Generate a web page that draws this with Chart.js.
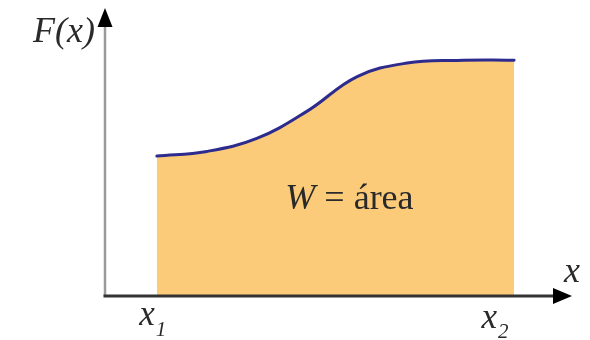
<!DOCTYPE html>
<html>
<head>
<meta charset="utf-8">
<script src="https://cdn.jsdelivr.net/npm/chart.js@4.4.1/dist/chart.umd.min.js"></script>
<style>
  html, body { margin: 0; padding: 0; background: #fff; }
  #work { display: block; }
</style>
</head>
<body>
<canvas id="work" width="590" height="340"></canvas>
<script>
// Curva F(x) entre x1 y x2 (unidades arbitrarias, eje x 0..100, eje y 0..100)
const posX = [11.1, 21.8, 32.5, 43.3, 54.0, 64.7, 75.4, 87.6];
const fuerza = [48.6, 50.2, 54.7, 64.2, 76.2, 80.9, 81.8, 81.9];
const limites = ['1', '2'];
const ejeY = 'F(x)';
const ejeX = 'x';
const textoArea = ['W', ' = área'];

const SERIF = '"Liberation Serif", "DejaVu Serif", serif';
const TEXT_COLOR = '#2a2a2a';

// Ejes con flechas y rótulos, dibujados sobre el área rellena
const ejesPlugin = {
  id: 'ejes',
  afterDatasetsDraw(chart) {
    const { ctx, chartArea, scales: { x, y } } = chart;
    const x0 = x.getPixelForValue(0);
    const y0 = y.getPixelForValue(0);
    const top = chartArea.top;
    const right = chartArea.right;

    ctx.save();
    // eje vertical (gris)
    ctx.strokeStyle = '#9a9a9a';
    ctx.lineWidth = 2.5;
    ctx.beginPath();
    ctx.moveTo(x0, y0);
    ctx.lineTo(x0, top + 16);
    ctx.stroke();
    ctx.fillStyle = '#000';
    ctx.beginPath();
    ctx.moveTo(x0, top);
    ctx.lineTo(x0 - 7.5, top + 19);
    ctx.lineTo(x0 + 7.5, top + 19);
    ctx.closePath();
    ctx.fill();

    // eje horizontal (oscuro)
    ctx.strokeStyle = '#333';
    ctx.lineWidth = 3;
    ctx.beginPath();
    ctx.moveTo(x0 - 1.5, y0);
    ctx.lineTo(right - 16, y0);
    ctx.stroke();
    ctx.beginPath();
    ctx.moveTo(right, y0);
    ctx.lineTo(right - 19, y0 - 8);
    ctx.lineTo(right - 19, y0 + 8);
    ctx.closePath();
    ctx.fill();

    // rótulos de los ejes
    ctx.fillStyle = TEXT_COLOR;
    ctx.textBaseline = 'alphabetic';
    ctx.font = 'italic 36px ' + SERIF;
    ctx.textAlign = 'right';
    ctx.fillText(ejeY, x0 - 10, top + 34);
    ctx.textAlign = 'center';
    ctx.fillText(ejeX, right, y0 - 14);

    // x1 y x2 bajo los extremos del área
    const bordes = [posX[0], posX[posX.length - 1]];
    const ajustes = [-2, -17];
    bordes.forEach((v, i) => {
      const px = x.getPixelForValue(v) + ajustes[i];
      ctx.font = 'italic 35px ' + SERIF;
      ctx.textAlign = 'right';
      ctx.fillText('x', px, y0 + 29 + i * 3);
      ctx.font = 'italic 21px ' + SERIF;
      ctx.textAlign = 'left';
      ctx.fillText(limites[i], px + 1, y0 + 40 + i * 2);
    });

    // W = área en el centro del relleno
    const cx = (x.getPixelForValue(bordes[0]) + x.getPixelForValue(bordes[1])) / 2 + 14;
    const by = y0 - 87;
    ctx.font = 'italic 36px ' + SERIF;
    const wW = ctx.measureText(textoArea[0]).width;
    ctx.font = '36px ' + SERIF;
    const wR = ctx.measureText(textoArea[1]).width;
    const sx = cx - (wW + wR) / 2;
    ctx.textAlign = 'left';
    ctx.font = 'italic 36px ' + SERIF;
    ctx.fillText(textoArea[0], sx, by);
    ctx.font = '36px ' + SERIF;
    ctx.fillText(textoArea[1], sx + wW, by);
    ctx.restore();
  }
};

new Chart(document.getElementById('work'), {
  type: 'line',
  data: {
    datasets: [{
      data: posX.map((v, i) => ({ x: v, y: fuerza[i] })),
      borderColor: '#2d2c8e',
      borderWidth: 3,
      borderCapStyle: 'round',
      backgroundColor: '#fbcb7a',
      fill: 'origin',
      pointRadius: 0,
      tension: 0.4
    }]
  },
  options: {
    responsive: false,
    animation: false,
    layout: { padding: { left: 105, right: 18, top: 8, bottom: 44 } },
    plugins: { legend: { display: false }, tooltip: { enabled: false } },
    scales: {
      x: { type: 'linear', min: 0, max: 100, display: false },
      y: { min: 0, max: 100, display: false }
    }
  },
  plugins: [ejesPlugin]
});
</script>
</body>
</html>
